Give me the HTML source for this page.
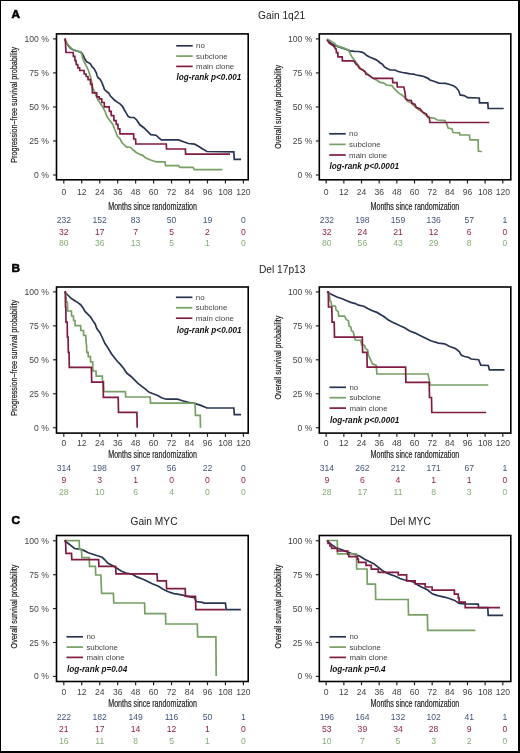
<!DOCTYPE html>
<html><head><meta charset="utf-8"><style>
html,body{margin:0;padding:0;background:#fff;}
body{width:520px;height:753px;overflow:hidden;position:relative;}
.frame{position:absolute;left:0;top:0;width:520px;height:753px;box-sizing:border-box;border:1px solid #000;border-right-width:2px;border-bottom-width:2px;}
svg{position:absolute;left:0;top:0;filter:blur(0.35px);}
text{font-family:"Liberation Sans", sans-serif;}
</style></head><body>
<svg width="520" height="753" viewBox="0 0 520 753">
<path d="M64.50,39.00 L67.50,44.60 L70.00,47.80 L72.50,49.60 L76.30,50.90 L79.40,51.80 L81.30,52.50 L83.10,55.30 L84.40,57.80 L85.60,60.30 L86.90,62.10 L88.80,62.80 L90.60,64.00 L91.90,66.50 L93.80,68.40 L95.00,70.30 L96.30,72.80 L96.90,75.30 L98.10,77.80 L100.00,79.00 L101.90,82.50 L103.10,85.60 L104.40,89.40 L106.30,91.30 L108.80,93.10 L110.60,96.30 L112.50,98.10 L114.40,100.00 L116.90,101.90 L120.00,103.80 L122.50,106.30 L124.40,110.00 L126.30,113.10 L128.10,116.30 L130.00,117.40 L134.00,117.50 L136.90,120.20 L139.80,124.80 L143.80,127.70 L147.30,131.20 L150.80,134.60 L156.00,135.20 L161.20,139.80 L178.50,139.90 L184.20,142.00 L188.50,143.50 L194.60,144.20 L198.50,146.20 L202.30,148.80 L206.90,151.50 L233.80,151.90 L234.30,159.30 L241.10,159.30" fill="none" stroke="#283452" stroke-width="1.7" stroke-linejoin="miter" stroke-linecap="butt"/>
<path d="M64.50,39.00 L67.50,44.00 L69.40,46.50 L72.50,49.30 L75.00,50.30 L77.50,51.30 L80.00,51.50 L80.60,52.10 L81.90,54.60 L82.50,57.80 L83.80,60.90 L85.00,63.40 L86.90,67.10 L88.80,71.50 L90.30,76.50 L91.50,81.00 L92.50,87.50 L94.40,91.30 L96.30,96.30 L98.10,100.00 L100.60,103.80 L103.10,107.50 L105.00,111.30 L106.90,116.30 L109.40,120.00 L111.90,123.10 L113.30,125.60 L115.00,130.00 L117.50,136.30 L120.00,138.80 L121.90,142.50 L124.40,145.00 L126.30,146.90 L130.60,147.50 L133.10,150.00 L136.30,152.50 L140.00,154.40 L143.10,155.60 L145.00,157.50 L147.50,158.80 L150.60,160.00 L154.40,161.30 L156.90,161.90 L165.00,161.90 L165.60,165.60 L178.50,165.60 L180.00,167.30 L193.10,167.30 L194.30,169.60 L222.30,169.60" fill="none" stroke="#76a064" stroke-width="1.7" stroke-linejoin="miter" stroke-linecap="butt"/>
<path d="M64.50,39.00 L65.30,39.00 L66.00,52.50 L73.20,52.50 L73.40,56.30 L74.80,56.30 L75.00,60.60 L76.00,60.60 L76.30,64.60 L77.70,64.60 L78.00,67.80 L79.60,67.80 L79.80,70.50 L84.00,70.50 L84.20,74.00 L86.00,74.00 L86.20,76.50 L87.90,76.50 L88.10,79.60 L90.40,79.60 L90.60,84.40 L92.10,84.40 L92.30,88.80 L92.40,92.80 L96.70,92.80 L96.90,96.90 L99.20,96.90 L99.40,98.80 L101.70,98.80 L101.90,102.50 L104.20,102.50 L104.40,106.90 L109.20,106.90 L109.40,111.30 L111.10,111.30 L111.30,115.60 L113.80,115.60 L114.00,120.60 L116.10,120.60 L116.30,124.40 L117.90,124.40 L118.10,128.80 L119.80,128.80 L120.00,133.80 L133.60,133.80 L133.80,139.00 L135.60,139.00 L135.80,144.00 L166.30,144.00 L166.50,149.00 L185.40,149.00 L185.60,154.20 L230.00,154.20" fill="none" stroke="#801b41" stroke-width="1.7" stroke-linejoin="miter" stroke-linecap="butt"/>
<path d="M327.00,39.60 L329.50,42.10 L332.00,44.00 L335.80,45.90 L339.50,47.10 L343.30,48.40 L347.00,49.60 L350.10,50.90 L354.50,51.30 L358.30,51.50 L362.00,52.10 L364.50,53.40 L366.40,55.30 L369.50,57.10 L372.00,58.00 L375.80,59.60 L378.30,61.30 L380.80,63.40 L381.90,63.80 L384.40,66.90 L387.50,68.80 L390.00,69.80 L395.00,70.00 L398.10,71.50 L402.50,72.50 L406.30,73.10 L410.00,73.80 L413.80,74.10 L416.30,75.00 L420.00,75.60 L423.80,76.50 L427.50,78.10 L430.00,80.00 L433.80,81.30 L438.80,83.10 L445.50,83.40 L449.70,84.50 L453.90,85.90 L456.60,88.00 L458.70,90.80 L460.10,94.90 L464.20,95.60 L467.70,97.70 L478.10,98.00 L479.30,98.00 L479.50,102.80 L487.80,102.80 L488.20,108.50 L503.70,108.50" fill="none" stroke="#283452" stroke-width="1.7" stroke-linejoin="miter" stroke-linecap="butt"/>
<path d="M327.00,39.00 L330.80,40.90 L334.50,43.40 L337.00,45.90 L340.80,47.10 L344.50,48.40 L347.00,49.60 L348.90,50.90 L350.10,53.40 L352.00,57.10 L353.90,59.60 L356.40,62.80 L358.30,65.30 L360.10,67.80 L362.00,69.60 L364.50,71.50 L367.00,73.40 L369.50,75.30 L371.40,77.10 L374.50,79.00 L377.00,80.30 L379.50,82.10 L383.80,83.10 L386.30,85.00 L391.90,85.60 L393.80,88.10 L396.30,90.60 L398.80,93.10 L401.90,95.00 L405.00,97.50 L407.50,101.30 L411.30,103.10 L413.80,105.60 L416.30,107.50 L418.80,110.00 L421.90,111.30 L425.00,114.40 L428.10,117.50 L433.80,118.10 L437.50,120.00 L445.00,120.60 L446.90,124.40 L448.10,128.10 L451.90,128.80 L453.10,132.50 L459.40,132.80 L460.00,134.80 L469.40,135.00 L470.00,139.80 L478.10,139.80 L478.40,151.30 L481.90,151.50" fill="none" stroke="#76a064" stroke-width="1.7" stroke-linejoin="miter" stroke-linecap="butt"/>
<path d="M327.00,39.60 L329.50,43.40 L333.30,45.90 L334.50,47.10 L335.50,49.00 L336.20,49.00 L336.40,52.60 L337.80,52.60 L338.00,56.80 L342.20,56.80 L342.40,60.80 L353.00,60.80 L354.50,61.50 L355.80,64.00 L357.60,65.30 L359.50,68.40 L360.80,69.00 L362.00,69.60 L365.10,71.50 L365.80,74.00 L367.60,74.60 L369.50,75.90 L371.40,77.10 L373.30,78.40 L392.50,78.40 L392.80,82.60 L397.00,82.60 L397.30,87.00 L403.80,87.00 L404.80,91.30 L405.40,95.60 L405.60,98.80 L407.50,100.00 L411.30,100.60 L411.90,103.10 L415.00,104.40 L416.30,107.50 L420.00,108.80 L421.30,110.60 L423.10,112.50 L426.30,113.80 L427.50,116.30 L429.40,117.50 L429.80,122.50 L489.30,122.50" fill="none" stroke="#801b41" stroke-width="1.7" stroke-linejoin="miter" stroke-linecap="butt"/>
<path d="M64.50,291.90 L68.30,295.50 L71.40,298.50 L74.50,300.50 L77.50,302.40 L80.60,304.70 L82.90,307.80 L85.20,311.60 L88.30,314.70 L90.60,317.00 L92.90,320.80 L95.20,323.90 L96.80,328.50 L99.80,332.40 L102.00,337.00 L105.00,343.50 L108.00,348.00 L111.40,353.80 L114.50,357.70 L117.50,361.50 L120.60,364.60 L123.70,368.50 L126.90,373.30 L130.80,376.20 L133.80,379.20 L137.70,383.10 L141.50,386.20 L145.40,389.20 L149.20,392.30 L153.10,393.80 L157.70,395.40 L161.50,397.70 L166.20,399.20 L177.70,399.20 L182.30,400.80 L188.50,402.30 L194.60,403.40 L200.80,405.40 L206.90,408.00 L233.80,408.00 L234.30,414.60 L241.10,414.60" fill="none" stroke="#283452" stroke-width="1.7" stroke-linejoin="miter" stroke-linecap="butt"/>
<path d="M64.50,292.00 L65.50,292.00 L66.00,297.00 L66.50,302.00 L67.30,302.00 L67.50,307.00 L67.60,311.00 L71.40,311.00 L71.60,316.00 L73.40,316.00 L73.60,320.50 L75.00,320.50 L75.20,325.70 L80.60,325.70 L80.80,330.50 L83.50,330.50 L83.70,335.50 L85.80,335.50 L86.00,340.50 L86.50,345.00 L86.80,352.30 L88.10,352.30 L88.30,356.60 L90.40,356.60 L90.60,361.80 L92.70,361.80 L92.90,371.00 L96.00,371.00 L96.20,376.20 L102.30,376.20 L102.50,381.50 L103.60,381.50 L103.80,391.70 L125.40,391.70 L125.70,397.00 L150.20,397.00 L150.50,403.10 L195.10,403.10 L195.40,415.40 L200.20,415.40 L200.50,427.70" fill="none" stroke="#76a064" stroke-width="1.7" stroke-linejoin="miter" stroke-linecap="butt"/>
<path d="M64.50,291.90 L65.30,291.90 L65.50,307.00 L65.80,307.00 L66.00,322.20 L67.20,322.20 L67.40,337.20 L68.10,337.20 L68.30,352.30 L69.10,352.30 L69.30,367.40 L91.40,367.40 L91.70,382.20 L103.10,382.20 L103.40,397.40 L118.20,397.40 L118.50,412.40 L136.90,412.40 L137.20,427.70" fill="none" stroke="#801b41" stroke-width="1.7" stroke-linejoin="miter" stroke-linecap="butt"/>
<path d="M327.00,291.90 L332.30,294.70 L336.90,297.00 L341.50,298.50 L346.20,300.50 L350.80,302.40 L355.40,303.60 L358.50,305.20 L363.80,306.20 L367.70,308.50 L372.30,310.80 L376.90,312.40 L380.80,314.70 L384.60,317.00 L388.00,319.80 L391.50,321.80 L396.00,323.80 L400.00,325.70 L404.60,327.70 L409.20,330.80 L415.40,333.10 L420.00,335.40 L426.20,338.50 L430.80,340.80 L438.50,343.10 L444.60,343.80 L449.20,346.20 L455.40,348.50 L459.20,351.50 L461.40,355.40 L464.60,356.50 L468.90,357.50 L471.10,359.00 L478.60,359.70 L480.80,365.10 L488.30,365.50 L489.40,369.80 L504.50,369.80" fill="none" stroke="#283452" stroke-width="1.7" stroke-linejoin="miter" stroke-linecap="butt"/>
<path d="M327.00,292.00 L329.20,293.20 L330.00,300.80 L331.10,301.60 L331.50,305.50 L335.40,306.20 L336.20,310.10 L338.20,311.60 L338.80,316.20 L344.60,316.20 L346.20,319.50 L348.50,320.80 L349.00,326.00 L350.80,327.00 L351.50,330.80 L353.10,331.50 L354.20,336.20 L355.40,340.00 L360.80,340.30 L361.50,344.60 L364.60,345.40 L365.40,348.50 L367.70,350.00 L368.50,355.40 L370.80,360.00 L372.30,363.80 L376.20,365.40 L376.90,374.00 L428.00,374.00 L429.10,379.10 L430.20,385.00 L488.30,385.00" fill="none" stroke="#76a064" stroke-width="1.7" stroke-linejoin="miter" stroke-linecap="butt"/>
<path d="M327.00,291.90 L328.30,291.90 L328.50,307.00 L331.80,307.00 L332.10,322.10 L334.20,322.10 L334.50,337.10 L362.30,337.10 L362.60,352.30 L366.90,352.30 L367.20,367.20 L405.60,367.20 L405.90,382.30 L429.20,382.30 L429.50,397.50 L431.50,397.50 L431.80,412.50 L486.20,412.50" fill="none" stroke="#801b41" stroke-width="1.7" stroke-linejoin="miter" stroke-linecap="butt"/>
<path d="M64.50,540.70 L68.30,543.50 L71.40,545.80 L74.50,548.50 L79.10,549.20 L83.70,550.40 L88.30,552.70 L92.90,554.20 L97.50,555.80 L102.20,557.30 L104.60,559.50 L107.70,563.00 L112.30,565.40 L116.90,568.30 L121.50,571.30 L126.20,573.00 L132.30,574.20 L136.90,576.90 L143.10,579.20 L147.70,581.50 L152.30,583.80 L158.50,586.20 L163.10,589.20 L167.70,591.50 L173.80,593.60 L176.20,593.80 L183.80,595.40 L190.00,596.90 L194.60,597.70 L196.20,601.50 L202.30,602.30 L203.80,603.10 L225.40,603.10 L226.20,609.70 L240.80,609.70" fill="none" stroke="#283452" stroke-width="1.7" stroke-linejoin="miter" stroke-linecap="butt"/>
<path d="M64.50,540.70 L79.20,540.70 L79.40,549.20 L81.50,549.20 L81.80,557.60 L89.20,557.60 L89.50,566.30 L95.40,566.30 L95.70,575.00 L100.90,575.00 L101.20,584.00 L101.60,593.30 L113.40,593.30 L113.80,603.00 L144.60,603.00 L144.90,613.60 L165.50,613.60 L165.80,624.00 L197.30,624.00 L197.70,636.90 L215.90,636.90 L216.20,676.00" fill="none" stroke="#76a064" stroke-width="1.7" stroke-linejoin="miter" stroke-linecap="butt"/>
<path d="M64.50,540.70 L65.50,540.70 L65.80,547.20 L66.00,553.30 L71.50,553.30 L71.80,559.60 L98.60,559.60 L98.90,566.40 L115.60,566.40 L116.00,573.80 L157.00,573.80 L157.40,580.80 L166.30,580.80 L166.60,588.70 L185.20,588.70 L185.50,596.30 L195.50,596.30 L195.80,609.70 L225.40,609.70" fill="none" stroke="#801b41" stroke-width="1.7" stroke-linejoin="miter" stroke-linecap="butt"/>
<path d="M327.00,540.80 L331.60,544.70 L335.50,547.50 L341.20,549.50 L346.00,551.40 L350.80,553.30 L355.70,554.80 L360.00,556.20 L364.60,559.20 L369.20,561.50 L373.80,563.80 L376.90,566.20 L381.50,570.00 L386.20,572.80 L390.80,574.60 L395.40,576.20 L400.00,578.50 L404.60,580.00 L409.20,580.80 L413.80,582.30 L418.50,585.40 L423.10,587.70 L427.70,590.00 L432.30,593.80 L436.90,595.40 L440.00,596.20 L445.40,597.30 L450.00,598.80 L454.60,600.40 L459.20,603.50 L465.40,603.90 L478.30,604.20 L478.50,607.60 L487.80,607.60 L488.20,615.30 L503.10,615.30" fill="none" stroke="#283452" stroke-width="1.7" stroke-linejoin="miter" stroke-linecap="butt"/>
<path d="M326.50,540.50 L337.30,540.50 L337.50,553.90 L356.40,553.90 L356.70,569.00 L367.00,569.00 L367.30,584.20 L375.40,584.20 L375.70,599.50 L408.20,599.50 L408.50,614.90 L427.40,614.90 L427.70,630.30 L475.40,630.30" fill="none" stroke="#76a064" stroke-width="1.7" stroke-linejoin="miter" stroke-linecap="butt"/>
<path d="M327.00,540.80 L328.00,540.80 L328.00,543.50 L330.00,543.50 L330.00,546.00 L331.60,546.00 L331.60,548.40 L337.40,548.40 L337.40,551.00 L347.80,551.00 L347.80,554.50 L348.90,554.50 L348.90,556.70 L357.50,556.70 L357.50,559.20 L358.40,559.20 L358.40,562.30 L366.00,562.30 L366.00,565.40 L371.30,565.40 L371.30,569.20 L378.30,569.20 L378.30,572.30 L398.30,572.30 L398.30,574.80 L406.60,574.80 L406.60,580.80 L415.20,580.80 L415.20,583.90 L425.20,583.90 L425.20,587.00 L432.10,587.00 L432.10,590.10 L454.40,590.10 L454.40,594.20 L458.30,594.20 L458.30,598.10 L459.10,598.10 L459.10,602.20 L465.20,602.20 L465.20,607.60 L500.00,607.60" fill="none" stroke="#801b41" stroke-width="1.7" stroke-linejoin="miter" stroke-linecap="butt"/>
<text x="11.40" y="17.90" font-size="11.8" fill="#000" text-anchor="start" font-weight="bold" font-style="normal" stroke="#000" stroke-width="0.6">A</text>
<text x="11.60" y="271.70" font-size="11.8" fill="#000" text-anchor="start" font-weight="bold" font-style="normal" stroke="#000" stroke-width="0.6">B</text>
<text x="11.50" y="523.60" font-size="11.8" fill="#000" text-anchor="start" font-weight="bold" font-style="normal" stroke="#000" stroke-width="0.6">C</text>
<text x="258.10" y="18.60" font-size="10.2" fill="#222" text-anchor="start" font-weight="normal" font-style="normal" >Gain 1q21</text>
<text x="259.00" y="272.70" font-size="10.2" fill="#222" text-anchor="start" font-weight="normal" font-style="normal" >Del 17p13</text>
<text x="130.50" y="524.50" font-size="10.2" fill="#222" text-anchor="start" font-weight="normal" font-style="normal" >Gain MYC</text>
<text x="390.00" y="524.50" font-size="10.2" fill="#222" text-anchor="start" font-weight="normal" font-style="normal" >Del MYC</text>
<rect x="56.50" y="33.90" width="191.70" height="145.90" fill="none" stroke="#000" stroke-width="1.6"/>
<line x1="53.10" y1="175.00" x2="56.50" y2="175.00" stroke="#222" stroke-width="1.2"/>
<text x="48.80" y="178.00" font-size="8.6" fill="#444" text-anchor="end" font-weight="normal" font-style="normal" >0 %</text>
<line x1="53.10" y1="140.97" x2="56.50" y2="140.97" stroke="#222" stroke-width="1.2"/>
<text x="48.80" y="143.97" font-size="8.6" fill="#444" text-anchor="end" font-weight="normal" font-style="normal" >25 %</text>
<line x1="53.10" y1="106.95" x2="56.50" y2="106.95" stroke="#222" stroke-width="1.2"/>
<text x="48.80" y="109.95" font-size="8.6" fill="#444" text-anchor="end" font-weight="normal" font-style="normal" >50 %</text>
<line x1="53.10" y1="72.93" x2="56.50" y2="72.93" stroke="#222" stroke-width="1.2"/>
<text x="48.80" y="75.93" font-size="8.6" fill="#444" text-anchor="end" font-weight="normal" font-style="normal" >75 %</text>
<line x1="53.10" y1="38.90" x2="56.50" y2="38.90" stroke="#222" stroke-width="1.2"/>
<text x="48.80" y="41.90" font-size="8.6" fill="#444" text-anchor="end" font-weight="normal" font-style="normal" >100 %</text>
<line x1="63.80" y1="179.80" x2="63.80" y2="183.50" stroke="#222" stroke-width="1.2"/>
<text x="63.80" y="194.60" font-size="8.6" fill="#444" text-anchor="middle" font-weight="normal" font-style="normal" >0</text>
<line x1="81.76" y1="179.80" x2="81.76" y2="183.50" stroke="#222" stroke-width="1.2"/>
<text x="81.76" y="194.60" font-size="8.6" fill="#444" text-anchor="middle" font-weight="normal" font-style="normal" >12</text>
<line x1="99.72" y1="179.80" x2="99.72" y2="183.50" stroke="#222" stroke-width="1.2"/>
<text x="99.72" y="194.60" font-size="8.6" fill="#444" text-anchor="middle" font-weight="normal" font-style="normal" >24</text>
<line x1="117.68" y1="179.80" x2="117.68" y2="183.50" stroke="#222" stroke-width="1.2"/>
<text x="117.68" y="194.60" font-size="8.6" fill="#444" text-anchor="middle" font-weight="normal" font-style="normal" >36</text>
<line x1="135.64" y1="179.80" x2="135.64" y2="183.50" stroke="#222" stroke-width="1.2"/>
<text x="135.64" y="194.60" font-size="8.6" fill="#444" text-anchor="middle" font-weight="normal" font-style="normal" >48</text>
<line x1="153.60" y1="179.80" x2="153.60" y2="183.50" stroke="#222" stroke-width="1.2"/>
<text x="153.60" y="194.60" font-size="8.6" fill="#444" text-anchor="middle" font-weight="normal" font-style="normal" >60</text>
<line x1="171.56" y1="179.80" x2="171.56" y2="183.50" stroke="#222" stroke-width="1.2"/>
<text x="171.56" y="194.60" font-size="8.6" fill="#444" text-anchor="middle" font-weight="normal" font-style="normal" >72</text>
<line x1="189.52" y1="179.80" x2="189.52" y2="183.50" stroke="#222" stroke-width="1.2"/>
<text x="189.52" y="194.60" font-size="8.6" fill="#444" text-anchor="middle" font-weight="normal" font-style="normal" >84</text>
<line x1="207.48" y1="179.80" x2="207.48" y2="183.50" stroke="#222" stroke-width="1.2"/>
<text x="207.48" y="194.60" font-size="8.6" fill="#444" text-anchor="middle" font-weight="normal" font-style="normal" >96</text>
<line x1="225.44" y1="179.80" x2="225.44" y2="183.50" stroke="#222" stroke-width="1.2"/>
<text x="225.44" y="194.60" font-size="8.6" fill="#444" text-anchor="middle" font-weight="normal" font-style="normal" >108</text>
<line x1="243.40" y1="179.80" x2="243.40" y2="183.50" stroke="#222" stroke-width="1.2"/>
<text x="243.40" y="194.60" font-size="8.6" fill="#444" text-anchor="middle" font-weight="normal" font-style="normal" >120</text>
<text transform="translate(152.60,209.60) scale(0.70,1)" font-size="10.2" fill="#222" stroke="#222" stroke-width="0.2" text-anchor="middle">Months since randomization</text>
<text transform="translate(17.30,104.80) rotate(-90) scale(0.775,1)" font-size="9.3" fill="#222" stroke="#222" stroke-width="0.22" text-anchor="middle">Progression–free survival probability</text>
<rect x="319.30" y="33.90" width="191.50" height="145.90" fill="none" stroke="#000" stroke-width="1.6"/>
<line x1="315.90" y1="175.00" x2="319.30" y2="175.00" stroke="#222" stroke-width="1.2"/>
<text x="312.40" y="178.00" font-size="8.6" fill="#444" text-anchor="end" font-weight="normal" font-style="normal" >0 %</text>
<line x1="315.90" y1="140.97" x2="319.30" y2="140.97" stroke="#222" stroke-width="1.2"/>
<text x="312.40" y="143.97" font-size="8.6" fill="#444" text-anchor="end" font-weight="normal" font-style="normal" >25 %</text>
<line x1="315.90" y1="106.95" x2="319.30" y2="106.95" stroke="#222" stroke-width="1.2"/>
<text x="312.40" y="109.95" font-size="8.6" fill="#444" text-anchor="end" font-weight="normal" font-style="normal" >50 %</text>
<line x1="315.90" y1="72.93" x2="319.30" y2="72.93" stroke="#222" stroke-width="1.2"/>
<text x="312.40" y="75.93" font-size="8.6" fill="#444" text-anchor="end" font-weight="normal" font-style="normal" >75 %</text>
<line x1="315.90" y1="38.90" x2="319.30" y2="38.90" stroke="#222" stroke-width="1.2"/>
<text x="312.40" y="41.90" font-size="8.6" fill="#444" text-anchor="end" font-weight="normal" font-style="normal" >100 %</text>
<line x1="326.20" y1="179.80" x2="326.20" y2="183.50" stroke="#222" stroke-width="1.2"/>
<text x="326.20" y="194.60" font-size="8.6" fill="#444" text-anchor="middle" font-weight="normal" font-style="normal" >0</text>
<line x1="343.86" y1="179.80" x2="343.86" y2="183.50" stroke="#222" stroke-width="1.2"/>
<text x="343.86" y="194.60" font-size="8.6" fill="#444" text-anchor="middle" font-weight="normal" font-style="normal" >12</text>
<line x1="361.52" y1="179.80" x2="361.52" y2="183.50" stroke="#222" stroke-width="1.2"/>
<text x="361.52" y="194.60" font-size="8.6" fill="#444" text-anchor="middle" font-weight="normal" font-style="normal" >24</text>
<line x1="379.18" y1="179.80" x2="379.18" y2="183.50" stroke="#222" stroke-width="1.2"/>
<text x="379.18" y="194.60" font-size="8.6" fill="#444" text-anchor="middle" font-weight="normal" font-style="normal" >36</text>
<line x1="396.84" y1="179.80" x2="396.84" y2="183.50" stroke="#222" stroke-width="1.2"/>
<text x="396.84" y="194.60" font-size="8.6" fill="#444" text-anchor="middle" font-weight="normal" font-style="normal" >48</text>
<line x1="414.50" y1="179.80" x2="414.50" y2="183.50" stroke="#222" stroke-width="1.2"/>
<text x="414.50" y="194.60" font-size="8.6" fill="#444" text-anchor="middle" font-weight="normal" font-style="normal" >60</text>
<line x1="432.16" y1="179.80" x2="432.16" y2="183.50" stroke="#222" stroke-width="1.2"/>
<text x="432.16" y="194.60" font-size="8.6" fill="#444" text-anchor="middle" font-weight="normal" font-style="normal" >72</text>
<line x1="449.82" y1="179.80" x2="449.82" y2="183.50" stroke="#222" stroke-width="1.2"/>
<text x="449.82" y="194.60" font-size="8.6" fill="#444" text-anchor="middle" font-weight="normal" font-style="normal" >84</text>
<line x1="467.48" y1="179.80" x2="467.48" y2="183.50" stroke="#222" stroke-width="1.2"/>
<text x="467.48" y="194.60" font-size="8.6" fill="#444" text-anchor="middle" font-weight="normal" font-style="normal" >96</text>
<line x1="485.14" y1="179.80" x2="485.14" y2="183.50" stroke="#222" stroke-width="1.2"/>
<text x="485.14" y="194.60" font-size="8.6" fill="#444" text-anchor="middle" font-weight="normal" font-style="normal" >108</text>
<line x1="502.80" y1="179.80" x2="502.80" y2="183.50" stroke="#222" stroke-width="1.2"/>
<text x="502.80" y="194.60" font-size="8.6" fill="#444" text-anchor="middle" font-weight="normal" font-style="normal" >120</text>
<text transform="translate(414.90,209.60) scale(0.70,1)" font-size="10.2" fill="#222" stroke="#222" stroke-width="0.2" text-anchor="middle">Months since randomization</text>
<text transform="translate(280.90,106.80) rotate(-90) scale(0.775,1)" font-size="9.3" fill="#222" stroke="#222" stroke-width="0.22" text-anchor="middle">Overall survival probability</text>
<rect x="56.50" y="287.00" width="191.70" height="146.10" fill="none" stroke="#000" stroke-width="1.6"/>
<line x1="53.10" y1="427.70" x2="56.50" y2="427.70" stroke="#222" stroke-width="1.2"/>
<text x="48.80" y="430.70" font-size="8.6" fill="#444" text-anchor="end" font-weight="normal" font-style="normal" >0 %</text>
<line x1="53.10" y1="393.75" x2="56.50" y2="393.75" stroke="#222" stroke-width="1.2"/>
<text x="48.80" y="396.75" font-size="8.6" fill="#444" text-anchor="end" font-weight="normal" font-style="normal" >25 %</text>
<line x1="53.10" y1="359.80" x2="56.50" y2="359.80" stroke="#222" stroke-width="1.2"/>
<text x="48.80" y="362.80" font-size="8.6" fill="#444" text-anchor="end" font-weight="normal" font-style="normal" >50 %</text>
<line x1="53.10" y1="325.85" x2="56.50" y2="325.85" stroke="#222" stroke-width="1.2"/>
<text x="48.80" y="328.85" font-size="8.6" fill="#444" text-anchor="end" font-weight="normal" font-style="normal" >75 %</text>
<line x1="53.10" y1="291.90" x2="56.50" y2="291.90" stroke="#222" stroke-width="1.2"/>
<text x="48.80" y="294.90" font-size="8.6" fill="#444" text-anchor="end" font-weight="normal" font-style="normal" >100 %</text>
<line x1="63.80" y1="433.10" x2="63.80" y2="436.80" stroke="#222" stroke-width="1.2"/>
<text x="63.80" y="445.80" font-size="8.6" fill="#444" text-anchor="middle" font-weight="normal" font-style="normal" >0</text>
<line x1="81.76" y1="433.10" x2="81.76" y2="436.80" stroke="#222" stroke-width="1.2"/>
<text x="81.76" y="445.80" font-size="8.6" fill="#444" text-anchor="middle" font-weight="normal" font-style="normal" >12</text>
<line x1="99.72" y1="433.10" x2="99.72" y2="436.80" stroke="#222" stroke-width="1.2"/>
<text x="99.72" y="445.80" font-size="8.6" fill="#444" text-anchor="middle" font-weight="normal" font-style="normal" >24</text>
<line x1="117.68" y1="433.10" x2="117.68" y2="436.80" stroke="#222" stroke-width="1.2"/>
<text x="117.68" y="445.80" font-size="8.6" fill="#444" text-anchor="middle" font-weight="normal" font-style="normal" >36</text>
<line x1="135.64" y1="433.10" x2="135.64" y2="436.80" stroke="#222" stroke-width="1.2"/>
<text x="135.64" y="445.80" font-size="8.6" fill="#444" text-anchor="middle" font-weight="normal" font-style="normal" >48</text>
<line x1="153.60" y1="433.10" x2="153.60" y2="436.80" stroke="#222" stroke-width="1.2"/>
<text x="153.60" y="445.80" font-size="8.6" fill="#444" text-anchor="middle" font-weight="normal" font-style="normal" >60</text>
<line x1="171.56" y1="433.10" x2="171.56" y2="436.80" stroke="#222" stroke-width="1.2"/>
<text x="171.56" y="445.80" font-size="8.6" fill="#444" text-anchor="middle" font-weight="normal" font-style="normal" >72</text>
<line x1="189.52" y1="433.10" x2="189.52" y2="436.80" stroke="#222" stroke-width="1.2"/>
<text x="189.52" y="445.80" font-size="8.6" fill="#444" text-anchor="middle" font-weight="normal" font-style="normal" >84</text>
<line x1="207.48" y1="433.10" x2="207.48" y2="436.80" stroke="#222" stroke-width="1.2"/>
<text x="207.48" y="445.80" font-size="8.6" fill="#444" text-anchor="middle" font-weight="normal" font-style="normal" >96</text>
<line x1="225.44" y1="433.10" x2="225.44" y2="436.80" stroke="#222" stroke-width="1.2"/>
<text x="225.44" y="445.80" font-size="8.6" fill="#444" text-anchor="middle" font-weight="normal" font-style="normal" >108</text>
<line x1="243.40" y1="433.10" x2="243.40" y2="436.80" stroke="#222" stroke-width="1.2"/>
<text x="243.40" y="445.80" font-size="8.6" fill="#444" text-anchor="middle" font-weight="normal" font-style="normal" >120</text>
<text transform="translate(152.60,458.20) scale(0.70,1)" font-size="10.2" fill="#222" stroke="#222" stroke-width="0.2" text-anchor="middle">Months since randomization</text>
<text transform="translate(17.30,357.90) rotate(-90) scale(0.775,1)" font-size="9.3" fill="#222" stroke="#222" stroke-width="0.22" text-anchor="middle">Progression–free survival probability</text>
<rect x="319.30" y="287.00" width="191.50" height="146.10" fill="none" stroke="#000" stroke-width="1.6"/>
<line x1="315.90" y1="427.70" x2="319.30" y2="427.70" stroke="#222" stroke-width="1.2"/>
<text x="312.40" y="430.70" font-size="8.6" fill="#444" text-anchor="end" font-weight="normal" font-style="normal" >0 %</text>
<line x1="315.90" y1="393.75" x2="319.30" y2="393.75" stroke="#222" stroke-width="1.2"/>
<text x="312.40" y="396.75" font-size="8.6" fill="#444" text-anchor="end" font-weight="normal" font-style="normal" >25 %</text>
<line x1="315.90" y1="359.80" x2="319.30" y2="359.80" stroke="#222" stroke-width="1.2"/>
<text x="312.40" y="362.80" font-size="8.6" fill="#444" text-anchor="end" font-weight="normal" font-style="normal" >50 %</text>
<line x1="315.90" y1="325.85" x2="319.30" y2="325.85" stroke="#222" stroke-width="1.2"/>
<text x="312.40" y="328.85" font-size="8.6" fill="#444" text-anchor="end" font-weight="normal" font-style="normal" >75 %</text>
<line x1="315.90" y1="291.90" x2="319.30" y2="291.90" stroke="#222" stroke-width="1.2"/>
<text x="312.40" y="294.90" font-size="8.6" fill="#444" text-anchor="end" font-weight="normal" font-style="normal" >100 %</text>
<line x1="326.20" y1="433.10" x2="326.20" y2="436.80" stroke="#222" stroke-width="1.2"/>
<text x="326.20" y="445.80" font-size="8.6" fill="#444" text-anchor="middle" font-weight="normal" font-style="normal" >0</text>
<line x1="343.86" y1="433.10" x2="343.86" y2="436.80" stroke="#222" stroke-width="1.2"/>
<text x="343.86" y="445.80" font-size="8.6" fill="#444" text-anchor="middle" font-weight="normal" font-style="normal" >12</text>
<line x1="361.52" y1="433.10" x2="361.52" y2="436.80" stroke="#222" stroke-width="1.2"/>
<text x="361.52" y="445.80" font-size="8.6" fill="#444" text-anchor="middle" font-weight="normal" font-style="normal" >24</text>
<line x1="379.18" y1="433.10" x2="379.18" y2="436.80" stroke="#222" stroke-width="1.2"/>
<text x="379.18" y="445.80" font-size="8.6" fill="#444" text-anchor="middle" font-weight="normal" font-style="normal" >36</text>
<line x1="396.84" y1="433.10" x2="396.84" y2="436.80" stroke="#222" stroke-width="1.2"/>
<text x="396.84" y="445.80" font-size="8.6" fill="#444" text-anchor="middle" font-weight="normal" font-style="normal" >48</text>
<line x1="414.50" y1="433.10" x2="414.50" y2="436.80" stroke="#222" stroke-width="1.2"/>
<text x="414.50" y="445.80" font-size="8.6" fill="#444" text-anchor="middle" font-weight="normal" font-style="normal" >60</text>
<line x1="432.16" y1="433.10" x2="432.16" y2="436.80" stroke="#222" stroke-width="1.2"/>
<text x="432.16" y="445.80" font-size="8.6" fill="#444" text-anchor="middle" font-weight="normal" font-style="normal" >72</text>
<line x1="449.82" y1="433.10" x2="449.82" y2="436.80" stroke="#222" stroke-width="1.2"/>
<text x="449.82" y="445.80" font-size="8.6" fill="#444" text-anchor="middle" font-weight="normal" font-style="normal" >84</text>
<line x1="467.48" y1="433.10" x2="467.48" y2="436.80" stroke="#222" stroke-width="1.2"/>
<text x="467.48" y="445.80" font-size="8.6" fill="#444" text-anchor="middle" font-weight="normal" font-style="normal" >96</text>
<line x1="485.14" y1="433.10" x2="485.14" y2="436.80" stroke="#222" stroke-width="1.2"/>
<text x="485.14" y="445.80" font-size="8.6" fill="#444" text-anchor="middle" font-weight="normal" font-style="normal" >108</text>
<line x1="502.80" y1="433.10" x2="502.80" y2="436.80" stroke="#222" stroke-width="1.2"/>
<text x="502.80" y="445.80" font-size="8.6" fill="#444" text-anchor="middle" font-weight="normal" font-style="normal" >120</text>
<text transform="translate(414.90,458.20) scale(0.70,1)" font-size="10.2" fill="#222" stroke="#222" stroke-width="0.2" text-anchor="middle">Months since randomization</text>
<text transform="translate(280.90,357.60) rotate(-90) scale(0.775,1)" font-size="9.3" fill="#222" stroke="#222" stroke-width="0.22" text-anchor="middle">Overall survival probability</text>
<rect x="56.50" y="535.50" width="191.70" height="146.00" fill="none" stroke="#000" stroke-width="1.6"/>
<line x1="53.10" y1="676.40" x2="56.50" y2="676.40" stroke="#222" stroke-width="1.2"/>
<text x="48.80" y="679.40" font-size="8.6" fill="#444" text-anchor="end" font-weight="normal" font-style="normal" >0 %</text>
<line x1="53.10" y1="642.50" x2="56.50" y2="642.50" stroke="#222" stroke-width="1.2"/>
<text x="48.80" y="645.50" font-size="8.6" fill="#444" text-anchor="end" font-weight="normal" font-style="normal" >25 %</text>
<line x1="53.10" y1="608.60" x2="56.50" y2="608.60" stroke="#222" stroke-width="1.2"/>
<text x="48.80" y="611.60" font-size="8.6" fill="#444" text-anchor="end" font-weight="normal" font-style="normal" >50 %</text>
<line x1="53.10" y1="574.70" x2="56.50" y2="574.70" stroke="#222" stroke-width="1.2"/>
<text x="48.80" y="577.70" font-size="8.6" fill="#444" text-anchor="end" font-weight="normal" font-style="normal" >75 %</text>
<line x1="53.10" y1="540.80" x2="56.50" y2="540.80" stroke="#222" stroke-width="1.2"/>
<text x="48.80" y="543.80" font-size="8.6" fill="#444" text-anchor="end" font-weight="normal" font-style="normal" >100 %</text>
<line x1="63.80" y1="681.50" x2="63.80" y2="685.20" stroke="#222" stroke-width="1.2"/>
<text x="63.80" y="694.50" font-size="8.6" fill="#444" text-anchor="middle" font-weight="normal" font-style="normal" >0</text>
<line x1="81.76" y1="681.50" x2="81.76" y2="685.20" stroke="#222" stroke-width="1.2"/>
<text x="81.76" y="694.50" font-size="8.6" fill="#444" text-anchor="middle" font-weight="normal" font-style="normal" >12</text>
<line x1="99.72" y1="681.50" x2="99.72" y2="685.20" stroke="#222" stroke-width="1.2"/>
<text x="99.72" y="694.50" font-size="8.6" fill="#444" text-anchor="middle" font-weight="normal" font-style="normal" >24</text>
<line x1="117.68" y1="681.50" x2="117.68" y2="685.20" stroke="#222" stroke-width="1.2"/>
<text x="117.68" y="694.50" font-size="8.6" fill="#444" text-anchor="middle" font-weight="normal" font-style="normal" >36</text>
<line x1="135.64" y1="681.50" x2="135.64" y2="685.20" stroke="#222" stroke-width="1.2"/>
<text x="135.64" y="694.50" font-size="8.6" fill="#444" text-anchor="middle" font-weight="normal" font-style="normal" >48</text>
<line x1="153.60" y1="681.50" x2="153.60" y2="685.20" stroke="#222" stroke-width="1.2"/>
<text x="153.60" y="694.50" font-size="8.6" fill="#444" text-anchor="middle" font-weight="normal" font-style="normal" >60</text>
<line x1="171.56" y1="681.50" x2="171.56" y2="685.20" stroke="#222" stroke-width="1.2"/>
<text x="171.56" y="694.50" font-size="8.6" fill="#444" text-anchor="middle" font-weight="normal" font-style="normal" >72</text>
<line x1="189.52" y1="681.50" x2="189.52" y2="685.20" stroke="#222" stroke-width="1.2"/>
<text x="189.52" y="694.50" font-size="8.6" fill="#444" text-anchor="middle" font-weight="normal" font-style="normal" >84</text>
<line x1="207.48" y1="681.50" x2="207.48" y2="685.20" stroke="#222" stroke-width="1.2"/>
<text x="207.48" y="694.50" font-size="8.6" fill="#444" text-anchor="middle" font-weight="normal" font-style="normal" >96</text>
<line x1="225.44" y1="681.50" x2="225.44" y2="685.20" stroke="#222" stroke-width="1.2"/>
<text x="225.44" y="694.50" font-size="8.6" fill="#444" text-anchor="middle" font-weight="normal" font-style="normal" >108</text>
<line x1="243.40" y1="681.50" x2="243.40" y2="685.20" stroke="#222" stroke-width="1.2"/>
<text x="243.40" y="694.50" font-size="8.6" fill="#444" text-anchor="middle" font-weight="normal" font-style="normal" >120</text>
<text transform="translate(152.60,706.80) scale(0.70,1)" font-size="10.2" fill="#222" stroke="#222" stroke-width="0.2" text-anchor="middle">Months since randomization</text>
<text transform="translate(17.30,606.50) rotate(-90) scale(0.775,1)" font-size="9.3" fill="#222" stroke="#222" stroke-width="0.22" text-anchor="middle">Overall survival probability</text>
<rect x="319.30" y="535.50" width="191.50" height="146.00" fill="none" stroke="#000" stroke-width="1.6"/>
<line x1="315.90" y1="676.40" x2="319.30" y2="676.40" stroke="#222" stroke-width="1.2"/>
<text x="312.40" y="679.40" font-size="8.6" fill="#444" text-anchor="end" font-weight="normal" font-style="normal" >0 %</text>
<line x1="315.90" y1="642.50" x2="319.30" y2="642.50" stroke="#222" stroke-width="1.2"/>
<text x="312.40" y="645.50" font-size="8.6" fill="#444" text-anchor="end" font-weight="normal" font-style="normal" >25 %</text>
<line x1="315.90" y1="608.60" x2="319.30" y2="608.60" stroke="#222" stroke-width="1.2"/>
<text x="312.40" y="611.60" font-size="8.6" fill="#444" text-anchor="end" font-weight="normal" font-style="normal" >50 %</text>
<line x1="315.90" y1="574.70" x2="319.30" y2="574.70" stroke="#222" stroke-width="1.2"/>
<text x="312.40" y="577.70" font-size="8.6" fill="#444" text-anchor="end" font-weight="normal" font-style="normal" >75 %</text>
<line x1="315.90" y1="540.80" x2="319.30" y2="540.80" stroke="#222" stroke-width="1.2"/>
<text x="312.40" y="543.80" font-size="8.6" fill="#444" text-anchor="end" font-weight="normal" font-style="normal" >100 %</text>
<line x1="326.20" y1="681.50" x2="326.20" y2="685.20" stroke="#222" stroke-width="1.2"/>
<text x="326.20" y="694.50" font-size="8.6" fill="#444" text-anchor="middle" font-weight="normal" font-style="normal" >0</text>
<line x1="343.86" y1="681.50" x2="343.86" y2="685.20" stroke="#222" stroke-width="1.2"/>
<text x="343.86" y="694.50" font-size="8.6" fill="#444" text-anchor="middle" font-weight="normal" font-style="normal" >12</text>
<line x1="361.52" y1="681.50" x2="361.52" y2="685.20" stroke="#222" stroke-width="1.2"/>
<text x="361.52" y="694.50" font-size="8.6" fill="#444" text-anchor="middle" font-weight="normal" font-style="normal" >24</text>
<line x1="379.18" y1="681.50" x2="379.18" y2="685.20" stroke="#222" stroke-width="1.2"/>
<text x="379.18" y="694.50" font-size="8.6" fill="#444" text-anchor="middle" font-weight="normal" font-style="normal" >36</text>
<line x1="396.84" y1="681.50" x2="396.84" y2="685.20" stroke="#222" stroke-width="1.2"/>
<text x="396.84" y="694.50" font-size="8.6" fill="#444" text-anchor="middle" font-weight="normal" font-style="normal" >48</text>
<line x1="414.50" y1="681.50" x2="414.50" y2="685.20" stroke="#222" stroke-width="1.2"/>
<text x="414.50" y="694.50" font-size="8.6" fill="#444" text-anchor="middle" font-weight="normal" font-style="normal" >60</text>
<line x1="432.16" y1="681.50" x2="432.16" y2="685.20" stroke="#222" stroke-width="1.2"/>
<text x="432.16" y="694.50" font-size="8.6" fill="#444" text-anchor="middle" font-weight="normal" font-style="normal" >72</text>
<line x1="449.82" y1="681.50" x2="449.82" y2="685.20" stroke="#222" stroke-width="1.2"/>
<text x="449.82" y="694.50" font-size="8.6" fill="#444" text-anchor="middle" font-weight="normal" font-style="normal" >84</text>
<line x1="467.48" y1="681.50" x2="467.48" y2="685.20" stroke="#222" stroke-width="1.2"/>
<text x="467.48" y="694.50" font-size="8.6" fill="#444" text-anchor="middle" font-weight="normal" font-style="normal" >96</text>
<line x1="485.14" y1="681.50" x2="485.14" y2="685.20" stroke="#222" stroke-width="1.2"/>
<text x="485.14" y="694.50" font-size="8.6" fill="#444" text-anchor="middle" font-weight="normal" font-style="normal" >108</text>
<line x1="502.80" y1="681.50" x2="502.80" y2="685.20" stroke="#222" stroke-width="1.2"/>
<text x="502.80" y="694.50" font-size="8.6" fill="#444" text-anchor="middle" font-weight="normal" font-style="normal" >120</text>
<text transform="translate(414.90,706.80) scale(0.70,1)" font-size="10.2" fill="#222" stroke="#222" stroke-width="0.2" text-anchor="middle">Months since randomization</text>
<text transform="translate(280.90,606.50) rotate(-90) scale(0.775,1)" font-size="9.3" fill="#222" stroke="#222" stroke-width="0.22" text-anchor="middle">Overall survival probability</text>
<line x1="176.20" y1="45.80" x2="192.70" y2="45.80" stroke="#283452" stroke-width="1.7"/>
<text x="196.10" y="48.30" font-size="7.9" fill="#444" text-anchor="start" font-weight="normal" font-style="normal" >no</text>
<line x1="176.20" y1="56.10" x2="192.70" y2="56.10" stroke="#76a064" stroke-width="1.7"/>
<text x="196.10" y="58.60" font-size="7.9" fill="#444" text-anchor="start" font-weight="normal" font-style="normal" >subclone</text>
<line x1="176.20" y1="66.40" x2="192.70" y2="66.40" stroke="#801b41" stroke-width="1.7"/>
<text x="196.10" y="68.90" font-size="7.9" fill="#444" text-anchor="start" font-weight="normal" font-style="normal" >main clone</text>
<text x="176.50" y="80.30" font-size="8.2" fill="#111" text-anchor="start" font-weight="bold" font-style="italic" >log-rank p&lt;0.001</text>
<line x1="329.20" y1="133.80" x2="345.70" y2="133.80" stroke="#283452" stroke-width="1.7"/>
<text x="349.10" y="136.30" font-size="7.9" fill="#444" text-anchor="start" font-weight="normal" font-style="normal" >no</text>
<line x1="329.20" y1="144.40" x2="345.70" y2="144.40" stroke="#76a064" stroke-width="1.7"/>
<text x="349.10" y="146.90" font-size="7.9" fill="#444" text-anchor="start" font-weight="normal" font-style="normal" >subclone</text>
<line x1="329.20" y1="155.00" x2="345.70" y2="155.00" stroke="#801b41" stroke-width="1.7"/>
<text x="349.10" y="157.50" font-size="7.9" fill="#444" text-anchor="start" font-weight="normal" font-style="normal" >main clone</text>
<text x="329.60" y="169.00" font-size="8.2" fill="#111" text-anchor="start" font-weight="bold" font-style="italic" >log-rank p&lt;0.0001</text>
<line x1="175.90" y1="297.30" x2="192.40" y2="297.30" stroke="#283452" stroke-width="1.7"/>
<text x="195.80" y="299.80" font-size="7.9" fill="#444" text-anchor="start" font-weight="normal" font-style="normal" >no</text>
<line x1="175.90" y1="307.75" x2="192.40" y2="307.75" stroke="#76a064" stroke-width="1.7"/>
<text x="195.80" y="310.25" font-size="7.9" fill="#444" text-anchor="start" font-weight="normal" font-style="normal" >subclone</text>
<line x1="175.90" y1="318.20" x2="192.40" y2="318.20" stroke="#801b41" stroke-width="1.7"/>
<text x="195.80" y="320.70" font-size="7.9" fill="#444" text-anchor="start" font-weight="normal" font-style="normal" >main clone</text>
<text x="176.80" y="332.90" font-size="8.2" fill="#111" text-anchor="start" font-weight="bold" font-style="italic" >log-rank p&lt;0.001</text>
<line x1="329.50" y1="387.30" x2="346.00" y2="387.30" stroke="#283452" stroke-width="1.7"/>
<text x="349.40" y="389.80" font-size="7.9" fill="#444" text-anchor="start" font-weight="normal" font-style="normal" >no</text>
<line x1="329.50" y1="397.70" x2="346.00" y2="397.70" stroke="#76a064" stroke-width="1.7"/>
<text x="349.40" y="400.20" font-size="7.9" fill="#444" text-anchor="start" font-weight="normal" font-style="normal" >subclone</text>
<line x1="329.50" y1="408.10" x2="346.00" y2="408.10" stroke="#801b41" stroke-width="1.7"/>
<text x="349.40" y="410.60" font-size="7.9" fill="#444" text-anchor="start" font-weight="normal" font-style="normal" >main clone</text>
<text x="329.90" y="422.60" font-size="8.2" fill="#111" text-anchor="start" font-weight="bold" font-style="italic" >log-rank p&lt;0.0001</text>
<line x1="66.50" y1="636.80" x2="83.00" y2="636.80" stroke="#283452" stroke-width="1.7"/>
<text x="86.40" y="639.30" font-size="7.9" fill="#444" text-anchor="start" font-weight="normal" font-style="normal" >no</text>
<line x1="66.50" y1="647.10" x2="83.00" y2="647.10" stroke="#76a064" stroke-width="1.7"/>
<text x="86.40" y="649.60" font-size="7.9" fill="#444" text-anchor="start" font-weight="normal" font-style="normal" >subclone</text>
<line x1="66.50" y1="657.40" x2="83.00" y2="657.40" stroke="#801b41" stroke-width="1.7"/>
<text x="86.40" y="659.90" font-size="7.9" fill="#444" text-anchor="start" font-weight="normal" font-style="normal" >main clone</text>
<text x="66.90" y="672.10" font-size="8.2" fill="#111" text-anchor="start" font-weight="bold" font-style="italic" >log-rank p=0.04</text>
<line x1="329.50" y1="636.80" x2="346.00" y2="636.80" stroke="#283452" stroke-width="1.7"/>
<text x="349.40" y="639.30" font-size="7.9" fill="#444" text-anchor="start" font-weight="normal" font-style="normal" >no</text>
<line x1="329.50" y1="647.10" x2="346.00" y2="647.10" stroke="#76a064" stroke-width="1.7"/>
<text x="349.40" y="649.60" font-size="7.9" fill="#444" text-anchor="start" font-weight="normal" font-style="normal" >subclone</text>
<line x1="329.50" y1="657.40" x2="346.00" y2="657.40" stroke="#801b41" stroke-width="1.7"/>
<text x="349.40" y="659.90" font-size="7.9" fill="#444" text-anchor="start" font-weight="normal" font-style="normal" >main clone</text>
<text x="329.90" y="672.10" font-size="8.2" fill="#111" text-anchor="start" font-weight="bold" font-style="italic" >log-rank p=0.4</text>
<text x="63.80" y="223.00" font-size="8.6" fill="#44557a" text-anchor="middle" font-weight="normal" font-style="normal" >232</text>
<text x="99.72" y="223.00" font-size="8.6" fill="#44557a" text-anchor="middle" font-weight="normal" font-style="normal" >152</text>
<text x="135.64" y="223.00" font-size="8.6" fill="#44557a" text-anchor="middle" font-weight="normal" font-style="normal" >83</text>
<text x="171.56" y="223.00" font-size="8.6" fill="#44557a" text-anchor="middle" font-weight="normal" font-style="normal" >50</text>
<text x="207.48" y="223.00" font-size="8.6" fill="#44557a" text-anchor="middle" font-weight="normal" font-style="normal" >19</text>
<text x="243.40" y="223.00" font-size="8.6" fill="#44557a" text-anchor="middle" font-weight="normal" font-style="normal" >0</text>
<text x="63.80" y="234.80" font-size="8.6" fill="#8e2347" text-anchor="middle" font-weight="normal" font-style="normal" >32</text>
<text x="99.72" y="234.80" font-size="8.6" fill="#8e2347" text-anchor="middle" font-weight="normal" font-style="normal" >17</text>
<text x="135.64" y="234.80" font-size="8.6" fill="#8e2347" text-anchor="middle" font-weight="normal" font-style="normal" >7</text>
<text x="171.56" y="234.80" font-size="8.6" fill="#8e2347" text-anchor="middle" font-weight="normal" font-style="normal" >5</text>
<text x="207.48" y="234.80" font-size="8.6" fill="#8e2347" text-anchor="middle" font-weight="normal" font-style="normal" >2</text>
<text x="243.40" y="234.80" font-size="8.6" fill="#8e2347" text-anchor="middle" font-weight="normal" font-style="normal" >0</text>
<text x="63.80" y="246.30" font-size="8.6" fill="#88ac76" text-anchor="middle" font-weight="normal" font-style="normal" >80</text>
<text x="99.72" y="246.30" font-size="8.6" fill="#88ac76" text-anchor="middle" font-weight="normal" font-style="normal" >36</text>
<text x="135.64" y="246.30" font-size="8.6" fill="#88ac76" text-anchor="middle" font-weight="normal" font-style="normal" >13</text>
<text x="171.56" y="246.30" font-size="8.6" fill="#88ac76" text-anchor="middle" font-weight="normal" font-style="normal" >5</text>
<text x="207.48" y="246.30" font-size="8.6" fill="#88ac76" text-anchor="middle" font-weight="normal" font-style="normal" >1</text>
<text x="243.40" y="246.30" font-size="8.6" fill="#88ac76" text-anchor="middle" font-weight="normal" font-style="normal" >0</text>
<text x="326.80" y="223.00" font-size="8.6" fill="#44557a" text-anchor="middle" font-weight="normal" font-style="normal" >232</text>
<text x="362.40" y="223.00" font-size="8.6" fill="#44557a" text-anchor="middle" font-weight="normal" font-style="normal" >198</text>
<text x="398.00" y="223.00" font-size="8.6" fill="#44557a" text-anchor="middle" font-weight="normal" font-style="normal" >159</text>
<text x="433.60" y="223.00" font-size="8.6" fill="#44557a" text-anchor="middle" font-weight="normal" font-style="normal" >136</text>
<text x="469.20" y="223.00" font-size="8.6" fill="#44557a" text-anchor="middle" font-weight="normal" font-style="normal" >57</text>
<text x="504.80" y="223.00" font-size="8.6" fill="#44557a" text-anchor="middle" font-weight="normal" font-style="normal" >1</text>
<text x="326.80" y="234.80" font-size="8.6" fill="#8e2347" text-anchor="middle" font-weight="normal" font-style="normal" >32</text>
<text x="362.40" y="234.80" font-size="8.6" fill="#8e2347" text-anchor="middle" font-weight="normal" font-style="normal" >24</text>
<text x="398.00" y="234.80" font-size="8.6" fill="#8e2347" text-anchor="middle" font-weight="normal" font-style="normal" >21</text>
<text x="433.60" y="234.80" font-size="8.6" fill="#8e2347" text-anchor="middle" font-weight="normal" font-style="normal" >12</text>
<text x="469.20" y="234.80" font-size="8.6" fill="#8e2347" text-anchor="middle" font-weight="normal" font-style="normal" >6</text>
<text x="504.80" y="234.80" font-size="8.6" fill="#8e2347" text-anchor="middle" font-weight="normal" font-style="normal" >0</text>
<text x="326.80" y="246.30" font-size="8.6" fill="#88ac76" text-anchor="middle" font-weight="normal" font-style="normal" >80</text>
<text x="362.40" y="246.30" font-size="8.6" fill="#88ac76" text-anchor="middle" font-weight="normal" font-style="normal" >56</text>
<text x="398.00" y="246.30" font-size="8.6" fill="#88ac76" text-anchor="middle" font-weight="normal" font-style="normal" >43</text>
<text x="433.60" y="246.30" font-size="8.6" fill="#88ac76" text-anchor="middle" font-weight="normal" font-style="normal" >29</text>
<text x="469.20" y="246.30" font-size="8.6" fill="#88ac76" text-anchor="middle" font-weight="normal" font-style="normal" >8</text>
<text x="504.80" y="246.30" font-size="8.6" fill="#88ac76" text-anchor="middle" font-weight="normal" font-style="normal" >0</text>
<text x="63.80" y="471.40" font-size="8.6" fill="#44557a" text-anchor="middle" font-weight="normal" font-style="normal" >314</text>
<text x="99.72" y="471.40" font-size="8.6" fill="#44557a" text-anchor="middle" font-weight="normal" font-style="normal" >198</text>
<text x="135.64" y="471.40" font-size="8.6" fill="#44557a" text-anchor="middle" font-weight="normal" font-style="normal" >97</text>
<text x="171.56" y="471.40" font-size="8.6" fill="#44557a" text-anchor="middle" font-weight="normal" font-style="normal" >56</text>
<text x="207.48" y="471.40" font-size="8.6" fill="#44557a" text-anchor="middle" font-weight="normal" font-style="normal" >22</text>
<text x="243.40" y="471.40" font-size="8.6" fill="#44557a" text-anchor="middle" font-weight="normal" font-style="normal" >0</text>
<text x="63.80" y="483.30" font-size="8.6" fill="#8e2347" text-anchor="middle" font-weight="normal" font-style="normal" >9</text>
<text x="99.72" y="483.30" font-size="8.6" fill="#8e2347" text-anchor="middle" font-weight="normal" font-style="normal" >3</text>
<text x="135.64" y="483.30" font-size="8.6" fill="#8e2347" text-anchor="middle" font-weight="normal" font-style="normal" >1</text>
<text x="171.56" y="483.30" font-size="8.6" fill="#8e2347" text-anchor="middle" font-weight="normal" font-style="normal" >0</text>
<text x="207.48" y="483.30" font-size="8.6" fill="#8e2347" text-anchor="middle" font-weight="normal" font-style="normal" >0</text>
<text x="243.40" y="483.30" font-size="8.6" fill="#8e2347" text-anchor="middle" font-weight="normal" font-style="normal" >0</text>
<text x="63.80" y="495.20" font-size="8.6" fill="#88ac76" text-anchor="middle" font-weight="normal" font-style="normal" >28</text>
<text x="99.72" y="495.20" font-size="8.6" fill="#88ac76" text-anchor="middle" font-weight="normal" font-style="normal" >10</text>
<text x="135.64" y="495.20" font-size="8.6" fill="#88ac76" text-anchor="middle" font-weight="normal" font-style="normal" >6</text>
<text x="171.56" y="495.20" font-size="8.6" fill="#88ac76" text-anchor="middle" font-weight="normal" font-style="normal" >4</text>
<text x="207.48" y="495.20" font-size="8.6" fill="#88ac76" text-anchor="middle" font-weight="normal" font-style="normal" >0</text>
<text x="243.40" y="495.20" font-size="8.6" fill="#88ac76" text-anchor="middle" font-weight="normal" font-style="normal" >0</text>
<text x="326.80" y="471.40" font-size="8.6" fill="#44557a" text-anchor="middle" font-weight="normal" font-style="normal" >314</text>
<text x="362.40" y="471.40" font-size="8.6" fill="#44557a" text-anchor="middle" font-weight="normal" font-style="normal" >262</text>
<text x="398.00" y="471.40" font-size="8.6" fill="#44557a" text-anchor="middle" font-weight="normal" font-style="normal" >212</text>
<text x="433.60" y="471.40" font-size="8.6" fill="#44557a" text-anchor="middle" font-weight="normal" font-style="normal" >171</text>
<text x="469.20" y="471.40" font-size="8.6" fill="#44557a" text-anchor="middle" font-weight="normal" font-style="normal" >67</text>
<text x="504.80" y="471.40" font-size="8.6" fill="#44557a" text-anchor="middle" font-weight="normal" font-style="normal" >1</text>
<text x="326.80" y="483.30" font-size="8.6" fill="#8e2347" text-anchor="middle" font-weight="normal" font-style="normal" >9</text>
<text x="362.40" y="483.30" font-size="8.6" fill="#8e2347" text-anchor="middle" font-weight="normal" font-style="normal" >6</text>
<text x="398.00" y="483.30" font-size="8.6" fill="#8e2347" text-anchor="middle" font-weight="normal" font-style="normal" >4</text>
<text x="433.60" y="483.30" font-size="8.6" fill="#8e2347" text-anchor="middle" font-weight="normal" font-style="normal" >1</text>
<text x="469.20" y="483.30" font-size="8.6" fill="#8e2347" text-anchor="middle" font-weight="normal" font-style="normal" >1</text>
<text x="504.80" y="483.30" font-size="8.6" fill="#8e2347" text-anchor="middle" font-weight="normal" font-style="normal" >0</text>
<text x="326.80" y="495.20" font-size="8.6" fill="#88ac76" text-anchor="middle" font-weight="normal" font-style="normal" >28</text>
<text x="362.40" y="495.20" font-size="8.6" fill="#88ac76" text-anchor="middle" font-weight="normal" font-style="normal" >17</text>
<text x="398.00" y="495.20" font-size="8.6" fill="#88ac76" text-anchor="middle" font-weight="normal" font-style="normal" >11</text>
<text x="433.60" y="495.20" font-size="8.6" fill="#88ac76" text-anchor="middle" font-weight="normal" font-style="normal" >8</text>
<text x="469.20" y="495.20" font-size="8.6" fill="#88ac76" text-anchor="middle" font-weight="normal" font-style="normal" >3</text>
<text x="504.80" y="495.20" font-size="8.6" fill="#88ac76" text-anchor="middle" font-weight="normal" font-style="normal" >0</text>
<text x="63.80" y="720.10" font-size="8.6" fill="#44557a" text-anchor="middle" font-weight="normal" font-style="normal" >222</text>
<text x="99.72" y="720.10" font-size="8.6" fill="#44557a" text-anchor="middle" font-weight="normal" font-style="normal" >182</text>
<text x="135.64" y="720.10" font-size="8.6" fill="#44557a" text-anchor="middle" font-weight="normal" font-style="normal" >149</text>
<text x="171.56" y="720.10" font-size="8.6" fill="#44557a" text-anchor="middle" font-weight="normal" font-style="normal" >116</text>
<text x="207.48" y="720.10" font-size="8.6" fill="#44557a" text-anchor="middle" font-weight="normal" font-style="normal" >50</text>
<text x="243.40" y="720.10" font-size="8.6" fill="#44557a" text-anchor="middle" font-weight="normal" font-style="normal" >1</text>
<text x="63.80" y="732.20" font-size="8.6" fill="#8e2347" text-anchor="middle" font-weight="normal" font-style="normal" >21</text>
<text x="99.72" y="732.20" font-size="8.6" fill="#8e2347" text-anchor="middle" font-weight="normal" font-style="normal" >17</text>
<text x="135.64" y="732.20" font-size="8.6" fill="#8e2347" text-anchor="middle" font-weight="normal" font-style="normal" >14</text>
<text x="171.56" y="732.20" font-size="8.6" fill="#8e2347" text-anchor="middle" font-weight="normal" font-style="normal" >12</text>
<text x="207.48" y="732.20" font-size="8.6" fill="#8e2347" text-anchor="middle" font-weight="normal" font-style="normal" >1</text>
<text x="243.40" y="732.20" font-size="8.6" fill="#8e2347" text-anchor="middle" font-weight="normal" font-style="normal" >0</text>
<text x="63.80" y="743.60" font-size="8.6" fill="#88ac76" text-anchor="middle" font-weight="normal" font-style="normal" >16</text>
<text x="99.72" y="743.60" font-size="8.6" fill="#88ac76" text-anchor="middle" font-weight="normal" font-style="normal" >11</text>
<text x="135.64" y="743.60" font-size="8.6" fill="#88ac76" text-anchor="middle" font-weight="normal" font-style="normal" >8</text>
<text x="171.56" y="743.60" font-size="8.6" fill="#88ac76" text-anchor="middle" font-weight="normal" font-style="normal" >5</text>
<text x="207.48" y="743.60" font-size="8.6" fill="#88ac76" text-anchor="middle" font-weight="normal" font-style="normal" >1</text>
<text x="243.40" y="743.60" font-size="8.6" fill="#88ac76" text-anchor="middle" font-weight="normal" font-style="normal" >0</text>
<text x="326.80" y="720.10" font-size="8.6" fill="#44557a" text-anchor="middle" font-weight="normal" font-style="normal" >196</text>
<text x="362.40" y="720.10" font-size="8.6" fill="#44557a" text-anchor="middle" font-weight="normal" font-style="normal" >164</text>
<text x="398.00" y="720.10" font-size="8.6" fill="#44557a" text-anchor="middle" font-weight="normal" font-style="normal" >132</text>
<text x="433.60" y="720.10" font-size="8.6" fill="#44557a" text-anchor="middle" font-weight="normal" font-style="normal" >102</text>
<text x="469.20" y="720.10" font-size="8.6" fill="#44557a" text-anchor="middle" font-weight="normal" font-style="normal" >41</text>
<text x="504.80" y="720.10" font-size="8.6" fill="#44557a" text-anchor="middle" font-weight="normal" font-style="normal" >1</text>
<text x="326.80" y="732.20" font-size="8.6" fill="#8e2347" text-anchor="middle" font-weight="normal" font-style="normal" >53</text>
<text x="362.40" y="732.20" font-size="8.6" fill="#8e2347" text-anchor="middle" font-weight="normal" font-style="normal" >39</text>
<text x="398.00" y="732.20" font-size="8.6" fill="#8e2347" text-anchor="middle" font-weight="normal" font-style="normal" >34</text>
<text x="433.60" y="732.20" font-size="8.6" fill="#8e2347" text-anchor="middle" font-weight="normal" font-style="normal" >28</text>
<text x="469.20" y="732.20" font-size="8.6" fill="#8e2347" text-anchor="middle" font-weight="normal" font-style="normal" >9</text>
<text x="504.80" y="732.20" font-size="8.6" fill="#8e2347" text-anchor="middle" font-weight="normal" font-style="normal" >0</text>
<text x="326.80" y="743.60" font-size="8.6" fill="#88ac76" text-anchor="middle" font-weight="normal" font-style="normal" >10</text>
<text x="362.40" y="743.60" font-size="8.6" fill="#88ac76" text-anchor="middle" font-weight="normal" font-style="normal" >7</text>
<text x="398.00" y="743.60" font-size="8.6" fill="#88ac76" text-anchor="middle" font-weight="normal" font-style="normal" >5</text>
<text x="433.60" y="743.60" font-size="8.6" fill="#88ac76" text-anchor="middle" font-weight="normal" font-style="normal" >3</text>
<text x="469.20" y="743.60" font-size="8.6" fill="#88ac76" text-anchor="middle" font-weight="normal" font-style="normal" >2</text>
<text x="504.80" y="743.60" font-size="8.6" fill="#88ac76" text-anchor="middle" font-weight="normal" font-style="normal" >0</text>
</svg>
<div class="frame"></div>
</body></html>
